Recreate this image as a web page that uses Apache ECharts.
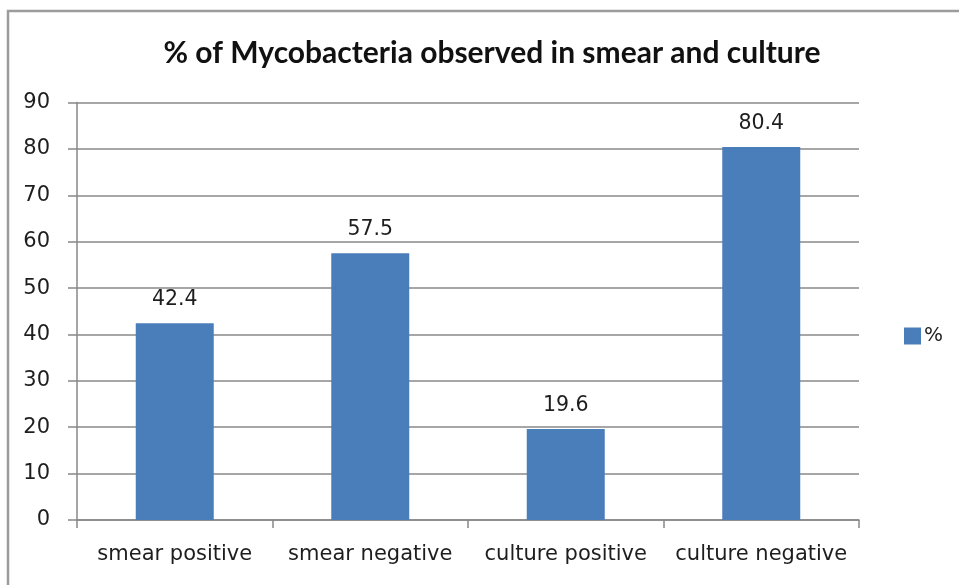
<!DOCTYPE html>
<html>
<head>
<meta charset="utf-8">
<script src="https://cdn.jsdelivr.net/npm/echarts@6/dist/echarts.min.js"></script>
<style>
  html, body { margin: 0; padding: 0; background: #ffffff; }
  #chart { width: 959px; height: 585px; }
</style>
</head>
<body>
<div id="chart"></div>
<script>
// Share of Mycobacteria findings by test and result
const categories = ['smear positive', 'smear negative', 'culture positive', 'culture negative'];
const percentValues = [42.4, 57.5, 19.6, 80.4];
const seriesName = '%';
const titleText = '% of Mycobacteria observed in smear and culture';

const axisGray = '#888888';
const textColor = '#1e1e1e';
const labelFont = 'DejaVu Sans, Verdana, sans-serif';

const chart = echarts.init(document.getElementById('chart'), null, { renderer: 'canvas' });

chart.setOption({
  backgroundColor: '#ffffff',
  animation: false,
  graphic: [{
    type: 'rect',
    shape: { x: 8, y: 11, width: 1000, height: 1000 },
    style: { fill: 'none', stroke: '#9c9c9c', lineWidth: 2.5 },
    silent: true
  }],
  title: {
    text: titleText,
    left: 487,
    textAlign: 'center',
    top: 33,
    textStyle: {
      fontFamily: 'Lato, sans-serif',
      fontWeight: 'bold',
      fontSize: 30,
      color: '#111111'
    }
  },
  legend: {
    data: [seriesName],
    left: 899,
    top: 321,
    icon: 'rect',
    itemWidth: 17,
    itemHeight: 17,
    itemGap: 6,
    textStyle: { fontFamily: labelFont, fontSize: 20, color: textColor, padding: [0, 0, 0, -2] }
  },
  grid: { left: 77, right: 100, top: 102.5, bottom: 65, containLabel: false },
  xAxis: {
    type: 'category',
    data: categories,
    axisLine: { lineStyle: { color: axisGray, width: 1.5 } },
    axisTick: { show: true, interval: 0, length: 8, lineStyle: { color: axisGray, width: 1.5 } },
    axisLabel: { interval: 0, margin: 24, fontFamily: labelFont, fontSize: 21, color: textColor }
  },
  yAxis: {
    type: 'value',
    min: 0,
    max: 90,
    interval: 10,
    axisLine: { show: true, lineStyle: { color: axisGray, width: 1.5 } },
    axisTick: { show: true, length: 9, lineStyle: { color: axisGray, width: 1.5 } },
    splitLine: { show: true, lineStyle: { color: axisGray, width: 1.5 } },
    axisLabel: { margin: 27, fontFamily: labelFont, fontSize: 21, color: textColor }
  },
  series: [{
    name: seriesName,
    type: 'bar',
    data: percentValues,
    barWidth: 78,
    itemStyle: { color: '#4a7ebb' },
    label: {
      show: true,
      position: 'top',
      distance: 13,
      fontFamily: labelFont,
      fontSize: 20.5,
      color: textColor,
      formatter: p => p.value.toFixed(1)
    }
  }]
});
</script>
</body>
</html>
